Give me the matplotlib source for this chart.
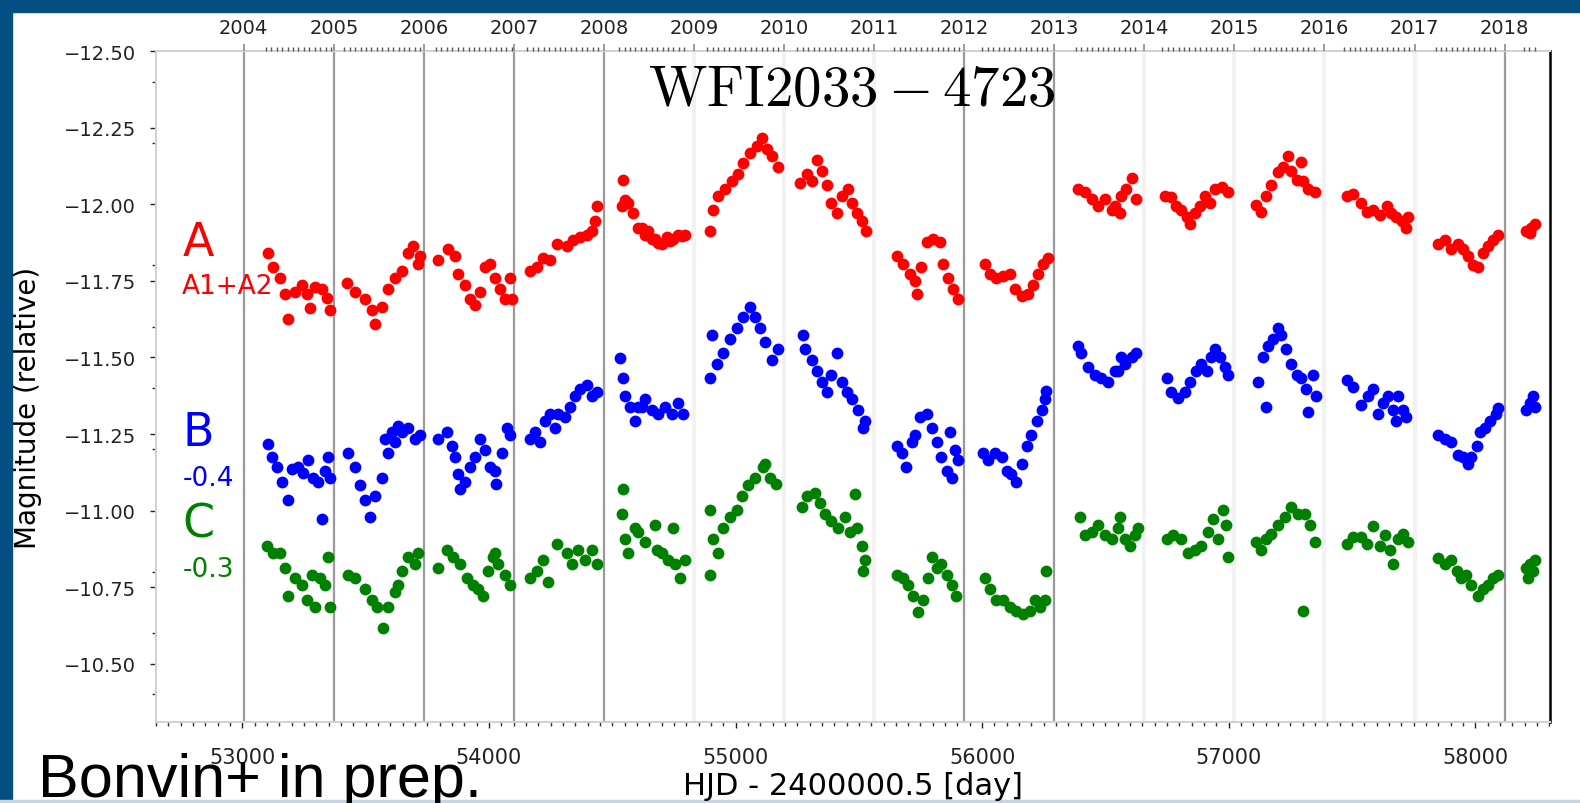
import numpy as np
import matplotlib
matplotlib.use("Agg")
import matplotlib.pyplot as plt
from matplotlib.patches import Rectangle
from matplotlib.ticker import MultipleLocator, FuncFormatter

plt.rcParams['mathtext.fontset'] = 'cm'

# light curves, HJD - 2400000.5 and relative magnitude (B shifted by -0.4, C by -0.3)
A_day = [53105, 53125, 53152, 53173, 53186, 53213, 53240, 53261, 53274, 53294, 53321, 53342, 53355,
         53423, 53457, 53497, 53524, 53538, 53565, 53592, 53619, 53646, 53673, 53693, 53713, 53720,
         53795, 53835, 53862, 53876, 53903, 53923, 53943, 53963, 53984, 54004, 54024, 54045, 54065, 54085, 54092,
         54166, 54193, 54220, 54247, 54274, 54315, 54342, 54369, 54396, 54416, 54430, 54437,
         54538, 54545, 54552, 54565, 54585, 54606, 54619, 54633, 54646, 54660, 54673, 54687, 54700, 54720, 54734, 54747, 54768, 54781, 54795,
         54896, 54910, 54930, 54957, 54984, 55011, 55031, 55058, 55085, 55106, 55126, 55146, 55173,
         55261, 55288, 55308, 55329, 55349, 55369, 55389, 55410, 55430, 55457, 55471, 55491, 55511, 55531,
         55653, 55680, 55707, 55727, 55734, 55754, 55775, 55802, 55829, 55842, 55862, 55883, 55903,
         56011, 56031, 56058, 56085, 56112, 56133, 56160, 56187, 56207, 56227, 56248, 56268,
         56390, 56417, 56444, 56471, 56498, 56525, 56538, 56558, 56565, 56585, 56606, 56626,
         56741, 56768, 56788, 56808, 56829, 56842, 56862, 56883, 56903, 56923, 56944, 56971, 56998,
         57112, 57133, 57153, 57173, 57200, 57221, 57241, 57254, 57275, 57295, 57302, 57322, 57349,
         57478, 57505, 57538, 57559, 57586, 57613, 57640, 57660, 57680, 57701, 57721, 57728,
         57849, 57876, 57903, 57930, 57951, 57971, 57991, 58012, 58032, 58052, 58072, 58093,
         58207, 58221, 58228, 58241]
A_mag = [-11.841, -11.795, -11.760, -11.707, -11.625, -11.713, -11.736, -11.707, -11.660, -11.730, -11.724, -11.695, -11.654,
         -11.742, -11.713, -11.690, -11.654, -11.608, -11.666, -11.724, -11.760, -11.783, -11.841, -11.865, -11.806, -11.830,
         -11.818, -11.853, -11.830, -11.771, -11.736, -11.690, -11.672, -11.713, -11.795, -11.806, -11.760, -11.724, -11.690, -11.760, -11.690,
         -11.783, -11.795, -11.824, -11.818, -11.870, -11.865, -11.882, -11.894, -11.900, -11.911, -11.946, -11.993,
         -11.993, -12.080, -12.015, -12.005, -11.970, -11.923, -11.923, -11.900, -11.911, -11.888, -11.888, -11.875, -11.870, -11.894, -11.880, -11.888, -11.900, -11.895, -11.900,
         -11.911, -11.981, -12.028, -12.051, -12.075, -12.098, -12.133, -12.168, -12.191, -12.215, -12.180, -12.156, -12.121,
         -12.069, -12.098, -12.075, -12.145, -12.110, -12.063, -12.005, -11.970, -12.028, -12.051, -12.005, -11.970, -11.946, -11.911,
         -11.830, -11.806, -11.771, -11.748, -11.707, -11.795, -11.876, -11.888, -11.876, -11.806, -11.760, -11.724, -11.690,
         -11.806, -11.771, -11.760, -11.765, -11.771, -11.724, -11.701, -11.707, -11.736, -11.771, -11.806, -11.824,
         -12.051, -12.040, -12.016, -11.993, -12.016, -11.981, -11.993, -11.970, -12.028, -12.051, -12.086, -12.016,
         -12.028, -12.022, -11.993, -11.981, -11.958, -11.935, -11.970, -11.993, -12.028, -12.005, -12.051, -12.057, -12.040,
         -11.999, -11.975, -12.028, -12.063, -12.104, -12.121, -12.156, -12.110, -12.080, -12.139, -12.075, -12.051, -12.040,
         -12.028, -12.034, -12.005, -11.975, -11.981, -11.964, -11.993, -11.970, -11.958, -11.946, -11.923, -11.958,
         -11.870, -11.882, -11.853, -11.870, -11.853, -11.830, -11.800, -11.795, -11.841, -11.865, -11.882, -11.900,
         -11.911, -11.905, -11.923, -11.935]

B_day = [53105, 53119, 53139, 53159, 53186, 53200, 53227, 53247, 53267, 53288, 53308, 53321, 53335, 53348, 53355,
         53430, 53457, 53477, 53497, 53517, 53538, 53565, 53578, 53592, 53605, 53619, 53632, 53646, 53673, 53700, 53720,
         53795, 53828, 53849, 53862, 53876, 53882, 53903, 53923, 53943, 53963, 53984, 54004, 54024, 54030, 54051, 54072, 54085,
         54166, 54186, 54207, 54227, 54247, 54268, 54281, 54308, 54328, 54349, 54369, 54396, 54416, 54437,
         54531, 54545, 54551, 54572, 54592, 54606, 54619, 54633, 54660, 54687, 54714, 54741, 54768, 54788,
         54898, 54903, 54923, 54950, 54977, 55004, 55031, 55058, 55079, 55099, 55119, 55146, 55173,
         55275, 55281, 55308, 55329, 55349, 55369, 55389, 55410, 55430, 55450, 55471, 55498, 55518, 55524,
         55653, 55673, 55693, 55714, 55727, 55747, 55775, 55795, 55815, 55835, 55856, 55870, 55876, 55889, 55903,
         56004, 56025, 56052, 56079, 56099, 56119, 56139, 56160, 56180, 56200, 56221, 56241, 56255, 56261,
         56390, 56403, 56430, 56457, 56484, 56511, 56538, 56552, 56565, 56579, 56606, 56626,
         56748, 56768, 56795, 56822, 56842, 56869, 56889, 56910, 56930, 56944, 56964, 56984, 56998,
         57119, 57139, 57153, 57160, 57180, 57200, 57214, 57234, 57254, 57275, 57295, 57315, 57322, 57342, 57356,
         57478, 57505, 57538, 57565, 57586, 57606, 57626, 57647, 57667, 57680, 57687, 57707, 57721,
         57849, 57876, 57903, 57930, 57951, 57971, 57984, 58005, 58018, 58038, 58059, 58086, 58093,
         58207, 58221, 58234, 58241]
B_mag = [-11.217, -11.176, -11.141, -11.094, -11.036, -11.135, -11.141, -11.124, -11.164, -11.106, -11.094, -10.972, -11.129, -11.176, -11.106,
         -11.188, -11.141, -11.083, -11.036, -10.978, -11.048, -11.106, -11.234, -11.188, -11.258, -11.223, -11.275, -11.258, -11.269, -11.234, -11.246,
         -11.234, -11.258, -11.211, -11.176, -11.118, -11.071, -11.094, -11.141, -11.176, -11.234, -11.199, -11.141, -11.129, -11.088, -11.188, -11.269, -11.246,
         -11.234, -11.258, -11.223, -11.293, -11.316, -11.269, -11.316, -11.305, -11.339, -11.374, -11.398, -11.409, -11.374, -11.386,
         -11.497, -11.433, -11.374, -11.339, -11.293, -11.339, -11.339, -11.363, -11.328, -11.316, -11.339, -11.316, -11.351, -11.316,
         -11.433, -11.573, -11.479, -11.514, -11.561, -11.596, -11.631, -11.666, -11.631, -11.596, -11.549, -11.491, -11.526,
         -11.573, -11.526, -11.491, -11.456, -11.421, -11.386, -11.444, -11.514, -11.421, -11.386, -11.363, -11.328, -11.269, -11.293,
         -11.211, -11.188, -11.141, -11.223, -11.246, -11.305, -11.316, -11.269, -11.223, -11.176, -11.129, -11.258, -11.106, -11.199, -11.164,
         -11.188, -11.164, -11.188, -11.176, -11.129, -11.118, -11.094, -11.153, -11.211, -11.246, -11.293, -11.328, -11.363, -11.392,
         -11.538, -11.514, -11.468, -11.444, -11.433, -11.421, -11.456, -11.456, -11.503, -11.479, -11.503, -11.514,
         -11.433, -11.386, -11.369, -11.386, -11.421, -11.456, -11.479, -11.456, -11.503, -11.526, -11.503, -11.468, -11.444,
         -11.421, -11.503, -11.339, -11.538, -11.561, -11.596, -11.573, -11.526, -11.479, -11.444, -11.433, -11.398, -11.322, -11.444, -11.374,
         -11.427, -11.404, -11.345, -11.374, -11.398, -11.316, -11.351, -11.374, -11.328, -11.293, -11.374, -11.328, -11.304,
         -11.246, -11.234, -11.223, -11.182, -11.176, -11.153, -11.176, -11.211, -11.258, -11.269, -11.293, -11.316, -11.334,
         -11.328, -11.351, -11.374, -11.339]

C_day = [53098, 53125, 53152, 53173, 53186, 53213, 53240, 53261, 53281, 53294, 53315, 53335, 53348, 53355,
         53430, 53457, 53497, 53524, 53544, 53571, 53592, 53619, 53632, 53646, 53673, 53700, 53713,
         53795, 53828, 53855, 53882, 53909, 53936, 53957, 53977, 53997, 54017, 54024, 54038, 54065, 54085,
         54166, 54193, 54220, 54240, 54274, 54315, 54335, 54362, 54389, 54416, 54437,
         54538, 54545, 54551, 54565, 54592, 54606, 54633, 54673, 54680, 54700, 54727, 54747, 54754, 54774, 54795,
         54896, 54898, 54910, 54930, 54950, 54977, 55004, 55025, 55052, 55079, 55112, 55119, 55139, 55166,
         55268, 55288, 55322, 55342, 55362, 55389, 55416, 55443, 55464, 55484, 55491, 55511, 55518, 55524,
         55653, 55680, 55700, 55720, 55741, 55761, 55781, 55795, 55815, 55835, 55856, 55876, 55896,
         56011, 56031, 56058, 56085, 56112, 56139, 56166, 56193, 56214, 56234, 56254, 56261,
         56396, 56417, 56444, 56471, 56498, 56525, 56552, 56560, 56579, 56599, 56619, 56633,
         56748, 56775, 56808, 56835, 56862, 56889, 56916, 56937, 56957, 56977, 56991, 56998,
         57112, 57133, 57153, 57173, 57200, 57227, 57254, 57281, 57302, 57308, 57329, 57349,
         57478, 57505, 57538, 57559, 57586, 57613, 57633, 57653, 57667, 57687, 57707, 57728,
         57849, 57876, 57903, 57924, 57944, 57964, 57984, 58012, 58032, 58052, 58072, 58093,
         58207, 58215, 58221, 58234, 58241]
C_mag = [-10.884, -10.861, -10.861, -10.814, -10.721, -10.779, -10.756, -10.709, -10.791, -10.686, -10.779, -10.756, -10.849, -10.686,
         -10.791, -10.779, -10.744, -10.709, -10.686, -10.616, -10.686, -10.733, -10.756, -10.803, -10.849, -10.826, -10.861,
         -10.814, -10.873, -10.849, -10.826, -10.779, -10.756, -10.744, -10.721, -10.803, -10.849, -10.861, -10.826, -10.791, -10.756,
         -10.779, -10.803, -10.838, -10.768, -10.890, -10.861, -10.826, -10.873, -10.838, -10.873, -10.826,
         -10.989, -11.071, -10.908, -10.861, -10.943, -10.931, -10.896, -10.954, -10.873, -10.861, -10.838, -10.943, -10.826, -10.779, -10.838,
         -11.001, -10.791, -10.908, -10.861, -10.943, -10.978, -11.001, -11.048, -11.083, -11.106, -11.141, -11.153, -11.106, -11.088,
         -11.013, -11.048, -11.059, -11.024, -10.989, -10.966, -10.943, -10.978, -10.931, -11.054, -10.943, -10.884, -10.803, -10.838,
         -10.791, -10.779, -10.756, -10.721, -10.668, -10.709, -10.779, -10.849, -10.814, -10.826, -10.791, -10.756, -10.721,
         -10.779, -10.744, -10.709, -10.709, -10.686, -10.674, -10.663, -10.674, -10.709, -10.686, -10.709, -10.803,
         -10.978, -10.919, -10.931, -10.954, -10.919, -10.908, -10.943, -10.978, -10.908, -10.884, -10.919, -10.943,
         -10.908, -10.919, -10.908, -10.861, -10.873, -10.884, -10.931, -10.972, -10.908, -11.001, -10.954, -10.849,
         -10.896, -10.873, -10.908, -10.925, -10.954, -10.978, -11.013, -10.989, -10.674, -10.989, -10.954, -10.896,
         -10.890, -10.913, -10.913, -10.890, -10.949, -10.884, -10.919, -10.873, -10.826, -10.908, -10.925, -10.896,
         -10.844, -10.826, -10.838, -10.803, -10.779, -10.791, -10.756, -10.721, -10.744, -10.756, -10.779, -10.791,
         -10.814, -10.779, -10.826, -10.803, -10.838]

years = [2004, 2005, 2006, 2007, 2008, 2009, 2010, 2011, 2012, 2013, 2014, 2015, 2016, 2017, 2018]
year_day = [53005, 53371, 53736, 54101, 54466, 54832, 55197, 55562, 55927, 56293, 56658, 57023, 57388, 57754, 58119]
dark_years = [2004, 2005, 2006, 2007, 2008, 2012, 2013, 2018]

fig = plt.figure(figsize=(15.8, 8.04), dpi=100)
ax = fig.add_axes([0.0985, 0.1007, 0.8825, 0.8346])

for y, d in zip(years, year_day):
    if y in dark_years:
        ax.axvline(d, color='#9a9a9a', lw=1.6, zorder=1)
    else:
        ax.axvline(d, color='#f2f2f2', lw=3, zorder=1)

for day, mag, col in [(A_day, A_mag, 'red'), (B_day, B_mag, 'blue'), (C_day, C_mag, 'green')]:
    ax.errorbar(day, mag, yerr=0.012, fmt='o', ms=8.5, mfc=col, mec=col, mew=0,
                ecolor='#8c8c8c', elinewidth=1, capsize=0, zorder=3)

ax.set_xlim(52648, 58303)
ax.set_ylim(-10.31, -12.5)
ax.yaxis.set_major_locator(MultipleLocator(0.25))
ax.yaxis.set_minor_locator(MultipleLocator(0.2))
ax.yaxis.set_major_formatter(FuncFormatter(lambda v, p: ('%.2f' % v).replace('-', '\u2212')))
ax.xaxis.set_major_locator(MultipleLocator(1000))
ax.xaxis.set_minor_locator(MultipleLocator(50))
ax.tick_params(axis='both', which='major', direction='out', length=4, width=1, colors='#222222')
ax.tick_params(axis='y', which='major', labelsize=14, pad=10)
ax.tick_params(axis='x', which='major', labelsize=15, pad=14)
ax.tick_params(axis='both', which='minor', direction='out', length=3, width=1, colors='#333333')
ax.tick_params(axis='x', which='both', top=False)

for side in ['left', 'top', 'bottom']:
    ax.spines[side].set_color('#d2d2d2')
    ax.spines[side].set_linewidth(1.5)
ax.spines['right'].set_color('black')
ax.spines['right'].set_linewidth(1.8)

ax.set_xlabel('HJD - 2400000.5 [day]', fontsize=22, labelpad=3)
ax.set_ylabel('Magnitude (relative)', fontsize=20)
ax.yaxis.set_label_coords(-0.0815, 0.469)

# top axis: years, small ticks during the observing seasons
ax2 = ax.twiny()
ax2.set_xlim(ax.get_xlim())
ax2.set_xticks(year_day)
ax2.set_xticklabels([str(y) for y in years])
d = np.array(A_day)
seasons = np.split(d, np.where(np.diff(d) > 60)[0] + 1)
top_minor = [t for s in seasons for t in np.arange(s[0] - 10, s[-1] + 10, 22)]
ax2.set_xticks(top_minor, minor=True)
ax2.tick_params(axis='x', which='major', length=5, width=1.2, colors='#8a8a8a', labelcolor='#222222',
                labelsize=14, pad=5)
ax2.tick_params(axis='x', which='minor', length=3, width=1, colors='#555555')
for side in ax2.spines:
    ax2.spines[side].set_visible(False)

# curve labels
ax.text(52756, -11.835, 'A', color='red', fontsize=33)
ax.text(52756, -11.710, 'A1+A2', color='red', fontsize=19)
ax.text(52756, -11.215, 'B', color='blue', fontsize=33)
ax.text(52756, -11.085, '-0.4', color='blue', fontsize=19)
ax.text(52756, -10.915, 'C', color='green', fontsize=33)
ax.text(52756, -10.785, '-0.3', color='green', fontsize=19)

fig.text(852 / 1580, 1 - 63 / 804, r'$\mathrm{WFI2033-4723}$', fontsize=41, ha='center', va='top')
fig.text(38 / 1580, 1 - 797 / 804, 'Bonvin+ in prep.', fontsize=44, family='Liberation Sans',
         ha='left', va='baseline')

# slide frame
fig.patches.append(Rectangle((0, 0), 12 / 1580, 1, transform=fig.transFigure, color='#044e83', zorder=-1))
fig.patches.append(Rectangle((0, 1 - 13 / 804), 1, 13 / 804, transform=fig.transFigure, color='#044e83', zorder=-1))
fig.patches.append(Rectangle((0, 0), 1, 3 / 804, transform=fig.transFigure, color='#c6d6e4', zorder=-1))

fig.savefig('out.png', dpi=100)
